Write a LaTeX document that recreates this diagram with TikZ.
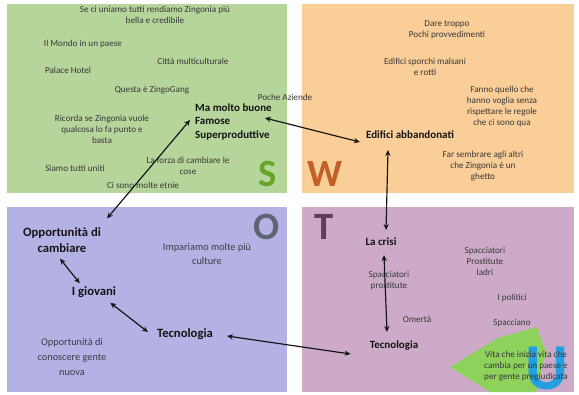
\documentclass[tikz,border=0pt]{standalone}
\usepackage{fontspec}
\setmainfont{Carlito}
\usetikzlibrary{arrows.meta,calc}

\definecolor{sgreen}{RGB}{182,213,155}
\definecolor{worange}{RGB}{250,206,152}
\definecolor{opurple}{RGB}{180,178,228}
\definecolor{tmauve}{RGB}{205,171,200}
\definecolor{sletter}{RGB}{102,165,41}
\definecolor{wletter}{RGB}{195,96,40}
\definecolor{oletter}{RGB}{95,100,115}
\definecolor{tletter}{RGB}{100,60,90}
\definecolor{uletter}{RGB}{35,160,225}
\definecolor{banner}{RGB}{142,210,92}
\definecolor{txtgray}{RGB}{55,55,55}
\definecolor{keyblack}{RGB}{20,20,20}

\begin{document}
\begin{tikzpicture}[x=0.03cm,y=-0.03cm,>={Stealth[length=5pt,width=4.5pt]},line cap=round,
  txt/.style={align=center,inner sep=0pt,text=txtgray,font=\fontsize{7.8}{9.4}\selectfont},
  txtbig/.style={txt,text=oletter!60!black,font=\fontsize{8.8}{12.6}\selectfont},
  key/.style={align=center,inner sep=0pt,text=keyblack,font=\fontsize{9.4}{11.1}\selectfont\bfseries},
  keybig/.style={key,font=\fontsize{10.8}{13.6}\selectfont\bfseries},
  letter/.style={inner sep=0pt,font=\fontsize{33}{33}\selectfont\bfseries},
  link/.style={<->,line width=1pt,keyblack}]
\useasboundingbox (0,0) rectangle (579,395);
% the four fields
\fill[sgreen] (7,4) rectangle (287,193);
\fill[worange] (302,4) rectangle (574,193);
\fill[opurple] (7,207) rectangle (287,392);
\fill[tmauve] (302,207) rectangle (574,392);
\begin{scope}
\clip (302,207) rectangle (574,392);
\fill[banner] (450,367) -- (498,338) -- (537,327) -- (546,352) -- (536,392) -- (490,392) -- cycle;
\node[letter,text=uletter,font=\fontsize{56}{56}\selectfont\bfseries,anchor=north] (lu) at (547,347) {U};
\end{scope}
\node[letter,text=sletter] (ls) at (268,174) {S};
\node[letter,text=wletter] (lw) at (325,174) {W};
\node[letter,text=oletter] (lo) at (267,227) {O};
\node[letter,text=tletter] (lt) at (324,227) {T};

% S
\node[txt] (uniamo) at (155,15) {Se ci uniamo tutti rendiamo Zingonia più\\bella e credibile};
\node[txt] (mondo) at (83,44) {Il Mondo in un paese};
\node[txt] (citta) at (193,61) {Città multiculturale};
\node[txt] (palace) at (68,70) {Palace Hotel};
\node[txt] (zingo) at (152,90) {Questa è ZingoGang};
\node[txt] (poche) at (285,97) {Poche Aziende};
\node[key,align=left,anchor=west] (buone) at (195,122) {Ma molto buone\\Famose\\Superproduttive};
\node[txt] (ricorda) at (102,129) {Ricorda se Zingonia vuole\\qualcosa lo fa punto e\\basta};
\node[txt] (uniti) at (75,168) {Siamo tutti uniti};
\node[txt] (forza) at (188,166) {La forza di cambiare le\\cose};
\node[txt] (etnie) at (143,185) {Ci sono molte etnie};

% W
\node[txt] (dare) at (447,30) {Dare troppo\\Pochi provvedimenti};
\node[txt] (sporchi) at (425,67) {Edifici sporchi malsani\\e rotti};
\node[txt] (fanno) at (502,107) {Fanno quello che\\hanno voglia senza\\rispettare le regole\\che ci sono qua};
\node[key] (abband) at (410,135) {Edifici abbandonati};
\node[txt] (ghetto) at (483,166) {Far sembrare agli altri\\che Zingonia è un\\ghetto};

% O
\node[keybig] (oppcamb) at (62,240) {Opportunità di\\cambiare};
\node[txtbig] (impariamo) at (207,254) {Impariamo molte più\\culture};
\node[keybig] (giov) at (94,292) {I giovani};
\node[keybig] (tecO) at (185,334) {Tecnologia};
\node[txtbig] (conoscere) at (72,357) {Opportunità di\\conoscere gente\\nuova};

% T
\node[key] (crisi) at (381,242) {La crisi};
\node[txt] (spacc) at (389,281) {Spacciatori\\prostitute};
\node[txt] (omerta) at (417,319) {Omertà};
\node[key] (tecT) at (394,346) {Tecnologia};
\node[txt] (ladri) at (485,261) {Spacciatori\\Prostitute\\ladri};
\node[txt] (politici) at (512,298) {I politici};
\node[txt] (spacciano) at (512,323) {Spacciano};
\node[txt] (vita) at (526,366) {Vita che inizia vita che\\cambia per un paese e\\per gente pregiudicata};

% links
\draw[link] ($(oppcamb.north east)+(6,-9)$) -- ($(buone.west)+(-5,-2)$);
\draw[link] ($(buone.east)+(-7,-4)$) -- ($(abband.west)+(-6,7)$);
\draw[link] ($(abband.south)+(-22,11)$) -- ($(crisi.north)+(5,-8)$);
\draw[link] ($(crisi.south)+(3,9)$) -- ($(tecT.north)+(-7,-9)$);
\draw[link] ($(tecO.east)+(14,2)$) -- ($(tecT.west)+(-19,8)$);
\draw[link] ($(giov.south east)+(-6,5)$) -- ($(tecO.west)+(-9,-2)$);
\draw[link] ($(oppcamb.south)+(-2,6)$) -- ($(giov.north west)+(8,-3)$);
\end{tikzpicture}
\end{document}
